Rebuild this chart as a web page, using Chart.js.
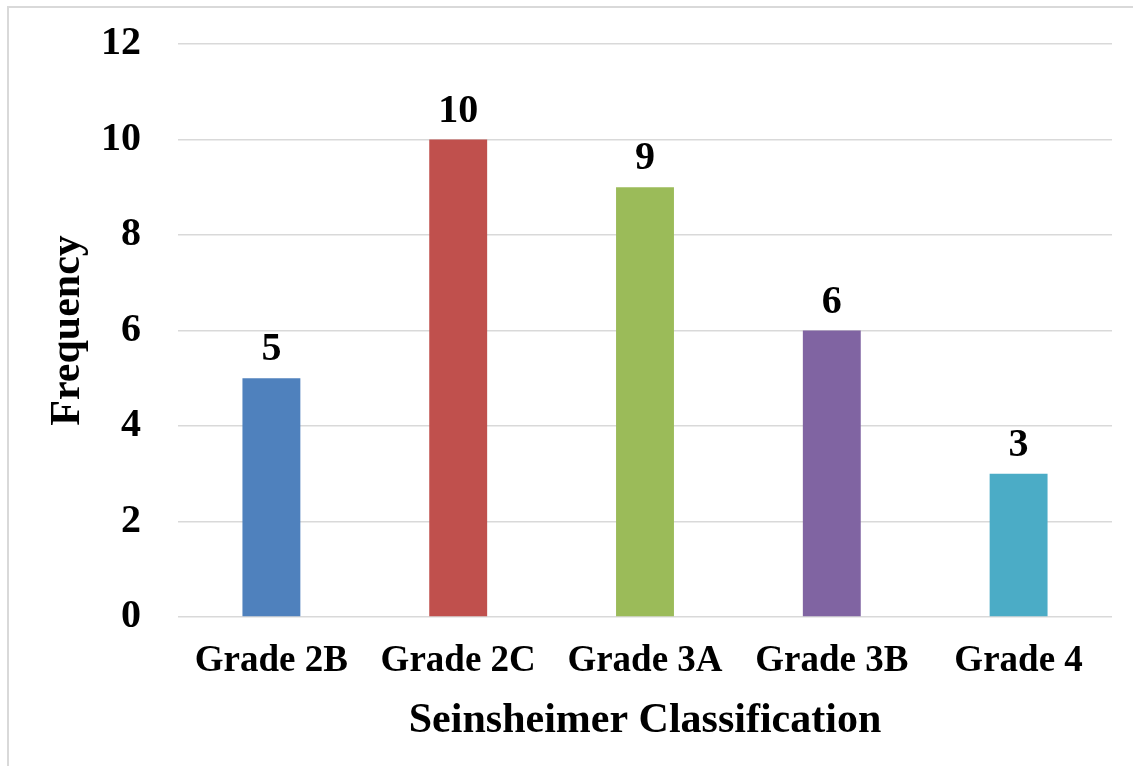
<!DOCTYPE html>
<html>
<head>
<meta charset="utf-8">
<script src="https://cdn.jsdelivr.net/npm/chart.js@4"></script>
<style>
  html, body { margin: 0; padding: 0; background: #ffffff; }
  #wrap { position: relative; width: 1133px; height: 766px; overflow: hidden; }
  #frame { position: absolute; left: 7px; top: 6px; width: 1140px; height: 780px;
           border-left: 2px solid #d9d9d9; border-top: 2px solid #d9d9d9; pointer-events: none; }
  canvas { position: absolute; left: 0; top: 0; }
</style>
</head>
<body>
<div id="wrap">
  <canvas id="chart" width="1133" height="766"></canvas>
  <div id="frame"></div>
</div>
<script>
const categories = ['Grade 2B', 'Grade 2C', 'Grade 3A', 'Grade 3B', 'Grade 4'];
const frequency = [5, 10, 9, 6, 3];
const barColors = ['#4F81BD', '#C0504D', '#9BBB59', '#8064A2', '#4BACC6'];
const yTicks = [0, 2, 4, 6, 8, 10, 12];

const serif = "'Liberation Serif', 'Times New Roman', serif";

// Value labels written above each bar
const valueLabels = {
  id: 'valueLabels',
  afterDatasetsDraw(chart) {
    const ctx = chart.ctx;
    const meta = chart.getDatasetMeta(0);
    ctx.save();
    ctx.font = 'bold 40px ' + serif;
    ctx.fillStyle = '#000000';
    ctx.textAlign = 'center';
    ctx.textBaseline = 'alphabetic';
    meta.data.forEach((bar, i) => {
      ctx.fillText(String(frequency[i]), bar.x, bar.y - 18);
    });
    ctx.restore();
  }
};

new Chart(document.getElementById('chart'), {
  type: 'bar',
  data: {
    labels: categories,
    datasets: [{
      data: frequency,
      backgroundColor: barColors,
      borderWidth: 0,
      categoryPercentage: 1,
      barPercentage: 0.31
    }]
  },
  options: {
    responsive: false,
    animation: false,
    devicePixelRatio: 1,
    layout: { padding: { top: 44, right: 21, left: 0, bottom: 20 } },
    plugins: {
      legend: { display: false },
      tooltip: { enabled: false }
    },
    scales: {
      x: {
        grid: { display: false, drawTicks: false },
        border: { display: false },
        ticks: {
          color: '#000000',
          font: { family: serif, weight: 'bold', size: 37 },
          padding: 22,
          maxRotation: 0,
          autoSkip: false
        },
        title: {
          display: true,
          text: 'Seinsheimer Classification',
          color: '#000000',
          font: { family: serif, weight: 'bold', size: 42 },
          padding: { top: 4, bottom: 0 }
        },
        afterFit(scale) {
          scale.height = 129;
          scale.paddingLeft = 0;
          scale.paddingRight = 0;
        }
      },
      y: {
        min: 0,
        max: 12,
        afterBuildTicks(scale) { scale.ticks = yTicks.map(v => ({ value: v })); },
        grid: { color: '#d9d9d9', lineWidth: 1.5, drawTicks: false },
        border: { display: false },
        ticks: {
          color: '#000000',
          font: { family: serif, weight: 'bold', size: 40 },
          padding: 37
        },
        title: {
          display: true,
          text: 'Frequency',
          color: '#000000',
          font: { family: serif, weight: 'bold', size: 42 },
          padding: { top: 43, bottom: 0 }
        },
        afterFit(scale) {
          scale.width = 178;
          scale.paddingTop = 0;
          scale.paddingBottom = 0;
        }
      }
    }
  },
  plugins: [valueLabels]
});
</script>
</body>
</html>
